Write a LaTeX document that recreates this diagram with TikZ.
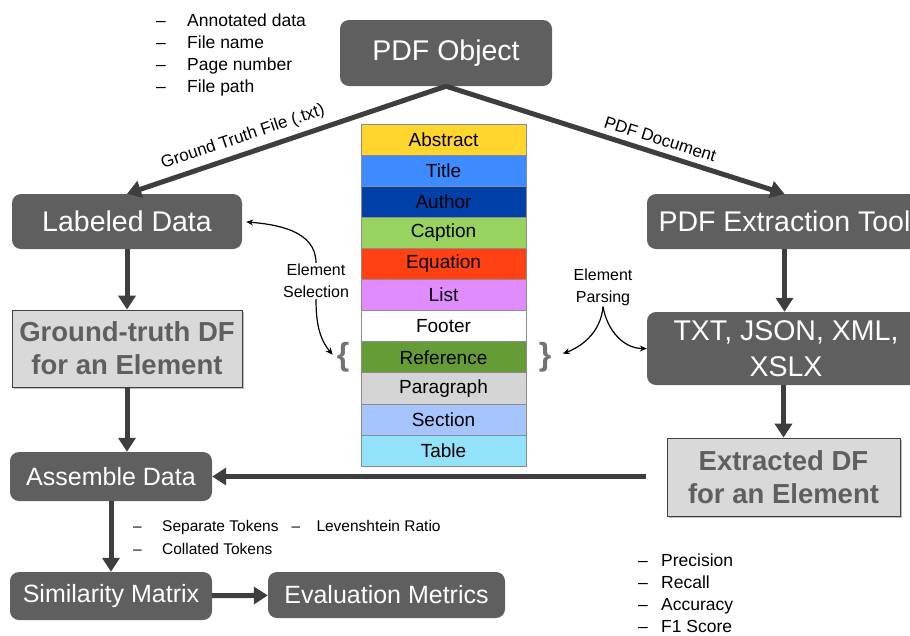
\documentclass[tikz,border=0pt]{standalone}
\usepackage{fontspec}
\setmainfont{Liberation Sans}
\usetikzlibrary{arrows.meta, positioning, calc, shadows}

\definecolor{boxgray}{RGB}{95,95,95}
\definecolor{arrowgray}{RGB}{62,62,62}
\definecolor{dfgray}{RGB}{217,217,217}
\definecolor{absyellow}{RGB}{255,213,46}
\definecolor{titleblue}{RGB}{61,139,255}
\definecolor{authorblue}{RGB}{0,64,168}
\definecolor{captiongreen}{RGB}{151,211,94}
\definecolor{equationred}{RGB}{255,65,20}
\definecolor{listviolet}{RGB}{224,140,255}
\definecolor{refgreen}{RGB}{102,156,53}
\definecolor{paragray}{RGB}{213,213,213}
\definecolor{sectionblue}{RGB}{166,197,255}
\definecolor{tablecyan}{RGB}{146,226,250}

\newcommand{\itm}[2][31pt]{\makebox[#1][l]{--}#2}

\tikzset{
  procbox/.style={fill=boxgray, rounded corners=9pt, text=white, align=center, inner sep=0pt, font=\fontsize{28.5}{36}\selectfont},
  smallproc/.style={procbox, font=\fontsize{25}{30}\selectfont},
  dfbox/.style={draw=black!75, line width=0.8pt, fill=dfgray, text=boxgray, align=center, inner sep=0pt,
    font=\bfseries\fontsize{27.5}{33}\selectfont, drop shadow={shadow xshift=2pt, shadow yshift=-2pt, fill=black!50}},
  flow/.style={draw=arrowgray, line width=5pt, -{Triangle[length=14pt, width=17pt]}},
  note/.style={align=left, inner sep=0pt, font=\fontsize{17.5}{22}\selectfont},
  hint/.style={align=center, inner sep=1pt, font=\fontsize{16}{22}\selectfont},
  curvearrow/.style={draw=black, line width=1.2pt, -{Stealth[length=7pt, width=6pt]}},
  cell/.style={draw=gray!90, line width=0.8pt, minimum width=165pt, minimum height=31.1pt, inner sep=0pt, font=\fontsize{19}{19}\selectfont},
  curly/.style={text=gray!90!black, inner sep=2pt, font=\bfseries\fontsize{32}{32}\selectfont}
}

\begin{document}
\begin{tikzpicture}[x=1pt, y=1pt]
  \useasboundingbox (0,0) rectangle (910,-635);

  % main boxes
  \node[procbox, minimum width=212pt, minimum height=66pt] (pdf) at (446,-53) {PDF Object};
  \node[procbox, minimum width=230pt, minimum height=55pt] (labeled) at (127,-221.5) {Labeled Data};
  \node[procbox, minimum width=275pt, minimum height=55pt] (tool) at (784.5,-221.5) {PDF Extraction Tool};
  \node[dfbox, minimum width=230pt, minimum height=77pt] (gtdf) at (127,-348.5) {Ground-truth DF\\for an Element};
  \node[procbox, minimum width=278pt, minimum height=73pt] (formats) at (786,-348.5) {TXT, JSON, XML,\\XSLX};
  \node[dfbox, minimum width=233pt, minimum height=78pt] (exdf) at (783.5,-477) {Extracted DF\\for an Element};
  \node[smallproc, minimum width=202pt, minimum height=49pt] (assemble) at (111,-476.5) {Assemble Data};
  \node[smallproc, minimum width=202pt, minimum height=48pt] (simmat) at (111,-596) {Similarity Matrix};
  \node[smallproc, minimum width=237pt, minimum height=46pt] (evalm) at (386.5,-595) {Evaluation Metrics};

  % element table
  \foreach \lbl/\col [count=\i] in {Abstract/absyellow, Title/titleblue, Author/authorblue, Caption/captiongreen,
      Equation/equationred, List/listviolet, Footer/white, Reference/refgreen, Paragraph/paragray,
      Section/sectionblue, Table/tablecyan}
    \node[cell, fill=\col] (row\i) at (443.5,{-124-31.1*(\i-0.5)}) {\lbl};
  \node[curly] (lbrace) at (343,-357) {\{};
  \node[curly] (rbrace) at (545,-357) {\}};

  % notes
  \node[note, anchor=north west] (meta) at (156,-13.3) {\itm{Annotated data}\\\itm{File name}\\\itm{Page number}\\\itm{File path}};
  \node[anchor=base west, inner sep=0pt, font=\fontsize{15.5}{23}\selectfont] (tokens) at (133,-531)
    {\begin{tabular}[t]{@{}l@{\hspace{13pt}}l@{}}\itm[29pt]{Separate Tokens} & \itm[25pt]{Levenshtein Ratio}\\\itm[29pt]{Collated Tokens} & \end{tabular}};
  \node[note, anchor=north west] (metrics) at (638,-554) {\itm[23pt]{Precision}\\\itm[23pt]{Recall}\\\itm[23pt]{Accuracy}\\\itm[23pt]{F1 Score}};
  \node[hint] (selection) at (316,-281) {Element\\Selection};
  \node[hint] (parsing) at (603,-287) {Element\\Parsing};

  % flows
  \draw[flow] (pdf.south) -- node[sloped, above, pos=0.62, inner sep=6pt, font=\fontsize{17}{17}\selectfont] {Ground Truth File (.txt)} (labeled.north);
  \draw[flow] (pdf.south) -- node[sloped, above, pos=0.62, inner sep=6pt, font=\fontsize{17}{17}\selectfont] {PDF Document} (tool.north);
  \draw[flow] (labeled) -- (gtdf);
  \draw[flow] (gtdf) -- (assemble.north -| gtdf.south);
  \draw[flow] (tool) -- (formats.north -| tool.south);
  \draw[flow] (formats.south -| exdf.north) -- (exdf);
  \draw[flow, shorten <=21pt] (exdf.west |- assemble.east) -- (assemble.east);
  \draw[flow] (assemble) -- (simmat);
  \draw[flow] (simmat) -- (evalm);

  % selection and parsing
  \draw[curvearrow, shorten >=4pt] (selection.north) to[out=90, in=-5] (labeled.east);
  \draw[curvearrow, shorten >=3pt] (selection.south) to[out=-90, in=130] (lbrace.west);
  \draw[curvearrow, shorten >=10pt] (parsing.south) to[out=-95, in=20] (rbrace.east);
  \draw[curvearrow] (parsing.south) to[out=-80, in=180] (formats.west);
\end{tikzpicture}
\end{document}
